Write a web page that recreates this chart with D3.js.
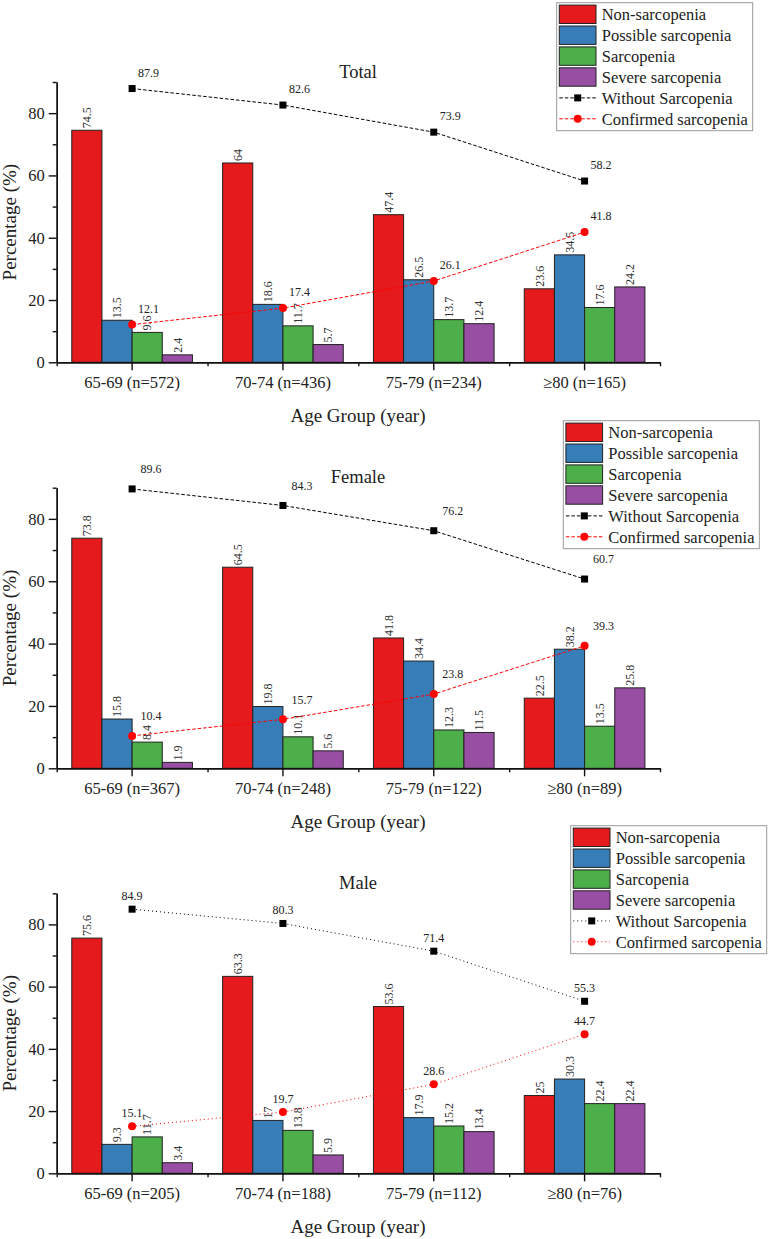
<!DOCTYPE html>
<html><head><meta charset="utf-8">
<script src="https://cdn.jsdelivr.net/npm/d3@7"></script>
<style>
html,body{margin:0;padding:0;background:#fff;}
svg text{font-family:"Liberation Serif","Tinos","Times New Roman","Times","DejaVu Serif",serif !important;}
</style></head>
<body><svg id="chart" width="770" height="1239"></svg>
<script>
// ---------------- DATA ----------------
const seriesNames = ["Non-sarcopenia","Possible sarcopenia","Sarcopenia","Severe sarcopenia"];
const lineNames = ["Without Sarcopenia","Confirmed sarcopenia"];
const yTicks = [0,20,40,60,80];

const totalTitle = "Total";
const totalCategories = ["65-69 (n=572)","70-74 (n=436)","75-79 (n=234)","≥80 (n=165)"];
const totalNon = [74.5,64,47.4,23.6];
const totalPossible = [13.5,18.6,26.5,34.5];
const totalSarc = [9.6,11.7,13.7,17.6];
const totalSevere = [2.4,5.7,12.4,24.2];
const totalWithout = [87.9,82.6,73.9,58.2];
const totalConfirmed = [12.1,17.4,26.1,41.8];

const femaleTitle = "Female";
const femaleCategories = ["65-69 (n=367)","70-74 (n=248)","75-79 (n=122)","≥80 (n=89)"];
const femaleNon = [73.8,64.5,41.8,22.5];
const femalePossible = [15.8,19.8,34.4,38.2];
const femaleSarc = [8.4,10.1,12.3,13.5];
const femaleSevere = [1.9,5.6,11.5,25.8];
const femaleWithout = [89.6,84.3,76.2,60.7];
const femaleConfirmed = [10.4,15.7,23.8,39.3];

const maleTitle = "Male";
const maleCategories = ["65-69 (n=205)","70-74 (n=188)","75-79 (n=112)","≥80 (n=76)"];
const maleNon = [75.6,63.3,53.6,25];
const malePossible = [9.3,17,17.9,30.3];
const maleSarc = [11.7,13.8,15.2,22.4];
const maleSevere = [3.4,5.9,13.4,22.4];
const maleWithout = [84.9,80.3,71.4,55.3];
const maleConfirmed = [15.1,19.7,28.6,44.7];

// ---------------- STYLE ----------------
const barColors = ["#e41a1c","#377eb8","#4daf4a","#984ea3"];
const lineColors = ["#000000","#ff0000"];
const svg = d3.select("#chart");
const left = 56.7, right = 660;

const panels = [
  {title: totalTitle, cats: totalCategories, bars:[totalNon,totalPossible,totalSarc,totalSevere],
   lines:[totalWithout,totalConfirmed], top:82, bottom:362.3, legend:[556.7,2.7], dash:"3.5,2", lab:[16.5,-16]},
  {title: femaleTitle, cats: femaleCategories, bars:[femaleNon,femalePossible,femaleSarc,femaleSevere],
   lines:[femaleWithout,femaleConfirmed], top:487.7, bottom:768.3, legend:[563.3,420.7], dash:"3.5,2", lab:[19,-20]},
  {title: maleTitle, cats: maleCategories, bars:[maleNon,malePossible,maleSarc,maleSevere],
   lines:[maleWithout,maleConfirmed], top:893.3, bottom:1173.3, legend:[570.7,825.7], dash:"1,3", lab:[0,-13.5]}
];

panels.forEach(p => {
  const g = svg.append("g");
  const x = d3.scaleBand().domain(p.cats).range([left,right]).padding(0);
  const xs = d3.scaleBand().domain(seriesNames).range([0, x.bandwidth()*0.8]).padding(0);
  const y = d3.scaleLinear().domain([0,90]).range([p.bottom,p.top]);
  const xi = d3.scaleLinear().domain([0,p.cats.length]).range([left,right]);
  const off = x.bandwidth()*0.1;

  // bars
  seriesNames.forEach((s,si) => {
    const vals = p.bars[si];
    g.append("g").selectAll("rect").data(vals).join("rect")
      .attr("x",(d,i)=>x(p.cats[i])+off+xs(s))
      .attr("y",d=>y(d))
      .attr("width",xs.bandwidth())
      .attr("height",d=>y(0)-y(d))
      .attr("fill",barColors[si])
      .attr("stroke","#222").attr("stroke-width",1);
    g.append("g").selectAll("text").data(vals).join("text")
      .attr("transform",(d,i)=>{
        const cx = x(p.cats[i])+off+xs(s)+xs.bandwidth()/2;
        return `translate(${cx},${y(d)-2}) rotate(-90)`;
      })
      .attr("dy","0.35em")
      .attr("font-size",12).attr("fill","#333")
      .text(d=>d);
  });

  // axes
  const yAxis = g.append("g").attr("transform",`translate(${left},0)`)
    .call(d3.axisLeft(y).tickValues(yTicks).tickSize(8).tickSizeOuter(0).tickPadding(4));
  yAxis.selectAll("text").attr("font-size",16.5).attr("fill","#222");
  g.append("g").attr("transform",`translate(${left},0)`)
    .call(d3.axisLeft(y).tickValues([10,30,50,70,90]).tickSize(4).tickSizeOuter(0).tickFormat(""));
  const xAxis = g.append("g").attr("transform",`translate(0,${p.bottom})`)
    .call(d3.axisBottom(x).tickSize(8).tickSizeOuter(0).tickPadding(6));
  xAxis.selectAll("text").attr("font-size",16.5).attr("fill","#222");
  g.append("g").attr("transform",`translate(0,${p.bottom})`)
    .call(d3.axisBottom(xi).tickValues(d3.range(p.cats.length+1)).tickSize(4).tickSizeOuter(0).tickFormat(""));
  g.selectAll(".domain, .tick line").attr("stroke","#111").attr("stroke-width",1.4);

  // axis titles
  g.append("text").attr("x",358).attr("y",p.bottom+59.4)
    .attr("text-anchor","middle").attr("font-size",19).attr("fill","#222").text("Age Group (year)");
  g.append("text").attr("transform",`translate(16,${(p.top+p.bottom)/2}) rotate(-90)`)
    .attr("text-anchor","middle").attr("font-size",19).attr("fill","#222").text("Percentage (%)");
  // panel title
  g.append("text").attr("x",358).attr("y",p.top-4.5).attr("text-anchor","middle")
    .attr("font-size",18.5).attr("fill","#222").text(p.title);

  // lines
  p.lines.forEach((vals,li) => {
    const cx = i => x(p.cats[i])+x.bandwidth()/2;
    const line = d3.line().x((d,i)=>cx(i)).y(d=>y(d));
    g.append("path").datum(vals).attr("d",line).attr("fill","none")
      .attr("stroke",lineColors[li]).attr("stroke-width",1).attr("stroke-dasharray",p.dash);
    if(li===0){
      g.append("g").selectAll("rect").data(vals).join("rect")
        .attr("x",(d,i)=>cx(i)-3.5).attr("y",d=>y(d)-3.5).attr("width",7).attr("height",7).attr("fill","#000");
    } else {
      g.append("g").selectAll("circle").data(vals).join("circle")
        .attr("cx",(d,i)=>cx(i)).attr("cy",d=>y(d)).attr("r",4).attr("fill","#ff0000");
    }
    g.append("g").selectAll("text").data(vals).join("text")
      .attr("x",(d,i)=>cx(i)+p.lab[0]).attr("y",d=>y(d)+p.lab[1]).attr("dy","0.35em")
      .attr("text-anchor","middle").attr("font-size",12).attr("fill","#222").text(d=>d);
  });

  // legend
  const [lx,ly] = p.legend;
  const lg = g.append("g").attr("transform",`translate(${lx},${ly})`);
  lg.append("rect").attr("width",196).attr("height",128).attr("fill","#fff").attr("stroke","#999").attr("stroke-width",1);
  const rowH = 20.9, r0 = 11.6;
  seriesNames.forEach((s,i)=>{
    const cy = r0 + i*rowH;
    lg.append("rect").attr("x",2.6).attr("y",cy-9.2).attr("width",36.7).attr("height",18.4)
      .attr("fill",barColors[i]).attr("stroke","#222").attr("stroke-width",1);
    lg.append("text").attr("x",45).attr("y",cy).attr("dy","0.35em").attr("font-size",16.5).attr("fill","#222").text(s);
  });
  lineNames.forEach((s,i)=>{
    const cy = r0 + (i+4)*rowH;
    lg.append("line").attr("x1",2.6).attr("x2",39.3).attr("y1",cy).attr("y2",cy)
      .attr("stroke",lineColors[i]).attr("stroke-width",1).attr("stroke-dasharray",p.dash);
    if(i===0) lg.append("rect").attr("x",21-3.5).attr("y",cy-3.5).attr("width",7).attr("height",7).attr("fill","#000");
    else lg.append("circle").attr("cx",21).attr("cy",cy).attr("r",4).attr("fill","#ff0000");
    lg.append("text").attr("x",45).attr("y",cy).attr("dy","0.35em").attr("font-size",16.5).attr("fill","#222").text(s);
  });
});
</script></body></html>
